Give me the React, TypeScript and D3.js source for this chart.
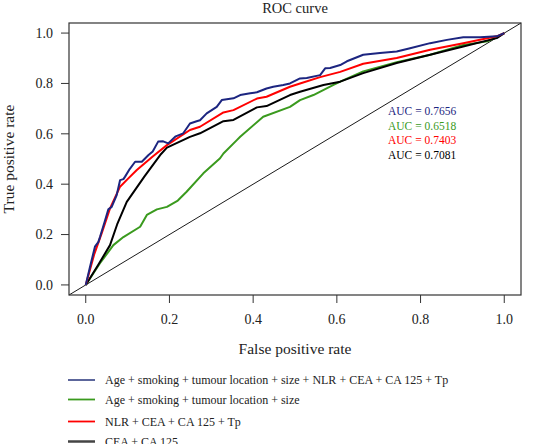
import React from "react";
import * as d3 from "d3";

const W = 545;
const H = 444;

const xTicks = [0, 0.2, 0.4, 0.6, 0.8, 1.0];
const yTicks = [0, 0.2, 0.4, 0.6, 0.8, 1.0];

const blueFpr = [0,0.01,0.022,0.03,0.034,0.045,0.054,0.062,0.074,0.082,0.09,0.094,0.105,0.118,0.134,0.15,0.16,0.173,0.185,0.197,0.215,0.233,0.249,0.265,0.273,0.289,0.313,0.325,0.353,0.369,0.393,0.409,0.432,0.448,0.472,0.488,0.512,0.528,0.56,0.572,0.584,0.608,0.624,0.663,0.703,0.743,0.775,0.823,0.863,0.902,0.942,0.982,1];
const blueTpr = [0,0.07,0.152,0.17,0.19,0.25,0.3,0.31,0.357,0.416,0.42,0.43,0.46,0.489,0.489,0.516,0.53,0.569,0.57,0.562,0.59,0.602,0.641,0.65,0.654,0.681,0.707,0.734,0.741,0.754,0.761,0.765,0.78,0.787,0.794,0.8,0.82,0.822,0.833,0.86,0.861,0.873,0.888,0.914,0.921,0.927,0.94,0.96,0.973,0.983,0.983,0.987,1];

const greenFpr = [0,0.034,0.066,0.09,0.13,0.146,0.17,0.194,0.22,0.241,0.281,0.321,0.329,0.361,0.369,0.424,0.488,0.512,0.544,0.592,0.608,0.663,0.743,0.823,0.902,0.96,1];
const greenTpr = [0,0.086,0.158,0.19,0.231,0.278,0.3,0.31,0.335,0.37,0.443,0.503,0.522,0.575,0.588,0.668,0.707,0.734,0.754,0.794,0.807,0.848,0.884,0.914,0.953,0.967,1];

const redFpr = [0,0.02,0.038,0.058,0.082,0.1,0.122,0.16,0.194,0.249,0.273,0.329,0.353,0.409,0.432,0.488,0.512,0.56,0.608,0.663,0.743,0.823,0.902,0.982,1];
const redTpr = [0,0.12,0.205,0.304,0.39,0.42,0.456,0.51,0.555,0.615,0.628,0.685,0.694,0.74,0.747,0.787,0.8,0.825,0.846,0.878,0.901,0.934,0.96,0.987,1];

const blackFpr = [0,0.03,0.058,0.075,0.098,0.14,0.18,0.194,0.249,0.273,0.329,0.353,0.409,0.432,0.488,0.512,0.568,0.608,0.663,0.743,0.823,0.902,0.982,1];
const blackTpr = [0,0.08,0.158,0.24,0.33,0.43,0.52,0.545,0.588,0.602,0.65,0.655,0.705,0.71,0.754,0.767,0.794,0.807,0.841,0.881,0.914,0.947,0.98,1];

const seriesNames = [
  "Age + smoking + tumour location + size + NLR + CEA + CA 125 + Tp",
  "Age + smoking + tumour location + size",
  "NLR + CEA + CA 125 + Tp",
  "CEA + CA 125",
];
const aucLabels = ["AUC = 0.7656", "AUC = 0.6518", "AUC = 0.7403", "AUC = 0.7081"];
const colors = ["#1c2580", "#3a9a1e", "#ff0000", "#000000"];
const legendColors = ["#4a5590", "#3a9a1e", "#ff0000", "#444444"];

const FONT = "'Liberation Serif', 'Times New Roman', serif";

export default function App() {
  const left = 69, right = 521, top = 23, bottom = 295;
  const x = d3.scaleLinear().domain([-0.04, 1.04]).range([left, right]);
  const y = d3.scaleLinear().domain([-0.04, 1.04]).range([bottom, top]);
  const line = d3
    .line<[number, number]>()
    .x((d) => x(d[0]))
    .y((d) => y(d[1]));

  const series: [number[], number[]][] = [
    [blueFpr, blueTpr],
    [greenFpr, greenTpr],
    [redFpr, redTpr],
    [blackFpr, blackTpr],
  ];
  const drawOrder = [1, 3, 2, 0];

  const legendY = [380, 399.5, 421.5, 441.5];
  const aucY = [115, 129.5, 144, 158.5];

  return (
    <svg
      width={W}
      height={H}
      style={{ position: "absolute", left: 0, top: 0, background: "#fff" }}
      fontFamily={FONT}
    >
      <rect x={0} y={0} width={W} height={H} fill="#fff" />
      <text x={(left + right) / 2} y={13} textAnchor="middle" fontSize={14.5} fill="#222">
        ROC curve
      </text>
      {/* diagonal */}
      <line x1={x(-0.04)} y1={y(-0.04)} x2={x(1.04)} y2={y(1.04)} stroke="#000" strokeWidth={0.9} />
      {drawOrder.map((i) => {
        const pts = series[i][0].map((f, k) => [f, series[i][1][k]] as [number, number]);
        return (
          <path
            key={i}
            d={line(pts) || ""}
            fill="none"
            stroke={colors[i]}
            strokeWidth={2}
            strokeLinejoin="round"
          />
        );
      })}
      <rect x={left} y={top} width={right - left} height={bottom - top} fill="none" stroke="#333" strokeWidth={1.2} />
      {xTicks.map((t) => (
        <g key={"x" + t}>
          <line x1={x(t)} x2={x(t)} y1={bottom} y2={bottom + 8} stroke="#333" strokeWidth={1} />
          <text x={x(t)} y={323.5} textAnchor="middle" fontSize={14} fill="#222">
            {t.toFixed(1)}
          </text>
        </g>
      ))}
      {yTicks.map((t) => (
        <g key={"y" + t}>
          <line x1={left - 8} x2={left} y1={y(t)} y2={y(t)} stroke="#333" strokeWidth={1} />
          <text x={53} y={y(t) + 4.8} textAnchor="end" fontSize={14} fill="#222">
            {t.toFixed(1)}
          </text>
        </g>
      ))}
      <text x={(left + right) / 2} y={354} textAnchor="middle" fontSize={15.5} fill="#222">
        False positive rate
      </text>
      <text
        transform={`translate(13.5, ${(top + bottom) / 2}) rotate(-90)`}
        textAnchor="middle"
        fontSize={15.5}
        fill="#222"
      >
        True positive rate
      </text>
      {aucLabels.map((s, i) => (
        <text key={s} x={388} y={aucY[i]} fontSize={11.5} fill={colors[i]}>
          {s}
        </text>
      ))}
      {seriesNames.map((s, i) => (
        <g key={s}>
          <line x1={68} x2={95} y1={legendY[i]} y2={legendY[i]} stroke={legendColors[i]} strokeWidth={i === 3 ? 2.5 : 1.8} />
          <text x={105} y={legendY[i] + 4} fontSize={12} fill="#222">
            {s}
          </text>
        </g>
      ))}
    </svg>
  );
}
